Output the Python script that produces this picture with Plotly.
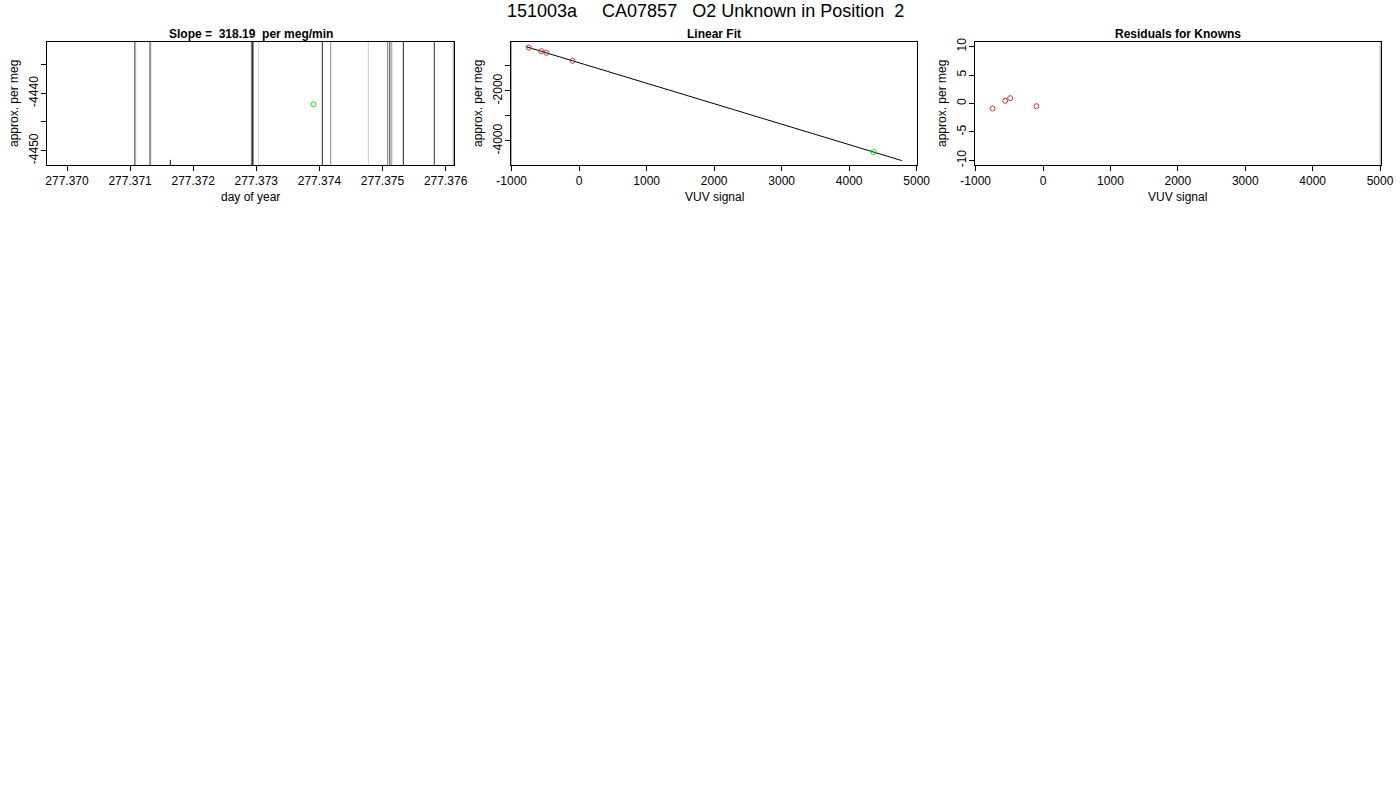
import plotly.graph_objects as go

# ---------------- data ----------------
# Panel 1: day-of-year traces (vertical trace lines) and the unknown point
trace_days = [277.371073, 277.371088, 277.371315, 277.371327, 277.372921, 277.372937,
              277.372956, 277.373035, 277.374046, 277.374179, 277.374775, 277.375082,
              277.375116, 277.375147, 277.375330, 277.375821, 277.376122]
trace_colors = ["#555555", "#aaaaaa", "#333333", "#999999", "#888888", "#000000",
                "#999999", "#dddddd", "#222222", "#888888", "#cccccc", "#777777",
                "#333333", "#999999", "#222222", "#333333", "#999999"]
stub_day = [277.371637]
stub_permeg = [-4455.0, -4451.6]
unknown_day = [277.373906]
unknown_permeg = [-4441.9]

# Panel 2: linear fit of knowns
known_signal = [-745, -563, -485, -98]
known_permeg = [-272.4, -419.7, -483.0, -800.5]
unknown_signal = [4361]
fit_signal = [-790, 4780]
fit_permeg = [-234.7, -4784.2]

# Panel 3: residuals for knowns
resid_signal = [-750, -562, -488, -99]
resid_permeg = [-0.88, 0.47, 0.94, -0.47]

main_title = "151003a\u00a0\u00a0\u00a0\u00a0\u00a0CA07857\u00a0\u00a0\u00a0O2 Unknown in Position\u00a0\u00a02"
titles = ["Slope =\u00a0\u00a0318.19\u00a0\u00a0per meg/min", "Linear Fit", "Residuals for Knowns"]
xlabels = ["day of year", "VUV signal", "VUV signal"]
ylabel = "approx. per meg"

# ---------------- layout constants ----------------
W, H = 1400, 800
FONT = "Liberation Sans, Arial, Helvetica, sans-serif"
px_x = [(47, 454), (511, 917.3), (975, 1380.7)]
py_top, py_bot = 42, 165


def fx(p):
    return p / W


def fy(p):
    return 1 - p / H


ydom = [fy(py_bot), fy(py_top)]

fig = go.Figure()

# Panel 1 vertical lines
for d, c in zip(trace_days, trace_colors):
    fig.add_trace(go.Scatter(x=[d, d], y=[-4470, -4410], mode="lines",
                             line=dict(color=c, width=1), xaxis="x", yaxis="y",
                             showlegend=False, hoverinfo="skip"))
fig.add_trace(go.Scatter(x=[stub_day[0], stub_day[0]], y=stub_permeg, mode="lines",
                         line=dict(color="#000000", width=1), xaxis="x", yaxis="y",
                         showlegend=False))
fig.add_trace(go.Scatter(x=unknown_day, y=unknown_permeg, mode="markers",
                         marker=dict(symbol="circle-open", size=5, color="#00ee00",
                                     line=dict(width=1)),
                         xaxis="x", yaxis="y", showlegend=False))

# Panel 2
fig.add_trace(go.Scatter(x=[-1010, -1010], y=[-6000, 1000], mode="lines",
                         line=dict(color="#aaaaaa", width=2), xaxis="x2", yaxis="y2",
                         showlegend=False, hoverinfo="skip"))
fig.add_trace(go.Scatter(x=fit_signal, y=fit_permeg, mode="lines",
                         line=dict(color="#000000", width=1), xaxis="x2", yaxis="y2",
                         showlegend=False))
fig.add_trace(go.Scatter(x=known_signal, y=known_permeg, mode="markers",
                         marker=dict(symbol="circle-open", size=5, color="#cc3333",
                                     line=dict(width=1)),
                         xaxis="x2", yaxis="y2", showlegend=False))
fig.add_trace(go.Scatter(x=unknown_signal, y=unknown_permeg, mode="markers",
                         marker=dict(symbol="circle-open", size=5, color="#00ee00",
                                     line=dict(width=1)),
                         xaxis="x2", yaxis="y2", showlegend=False))

# Panel 3
fig.add_trace(go.Scatter(x=[5010, 5010], y=[-20, 20], mode="lines",
                         line=dict(color="#aaaaaa", width=2), xaxis="x3", yaxis="y3",
                         showlegend=False, hoverinfo="skip"))
fig.add_trace(go.Scatter(x=resid_signal, y=resid_permeg, mode="markers",
                         marker=dict(symbol="circle-open", size=5, color="#cc3333",
                                     line=dict(width=1)),
                         xaxis="x3", yaxis="y3", showlegend=False))

axcommon = dict(showgrid=False, zeroline=False, showline=True, mirror=True,
                linecolor="#000000", linewidth=1, ticks="outside", ticklen=5,
                tickcolor="#000000", tickwidth=1, automargin=False,
                tickfont=dict(family=FONT, size=12, color="#000000"))

xranges = [[277.369683, 277.376133], [-1010, 5010], [-1010, 5010]]
yranges = [[-4452.5, -4431.05], [-4960, -50], [-10.8, 10.8]]

layout = dict(
    width=W, height=H, margin=dict(l=0, r=0, t=0, b=0, autoexpand=False),
    paper_bgcolor="white", plot_bgcolor="white", showlegend=False,
    font=dict(family=FONT, size=12, color="#000000"),
)

for i in range(3):
    xd = [fx(px_x[i][0]), fx(px_x[i][1])]
    sfx = "" if i == 0 else str(i + 1)
    xa = dict(axcommon, domain=xd, range=xranges[i], anchor="y" + sfx)
    ya = dict(axcommon, domain=ydom, range=yranges[i], anchor="x" + sfx, tickangle=-90,
              ticklabelstandoff=-2)
    if i == 0:
        xa.update(tickvals=[277.370, 277.371, 277.372, 277.373, 277.374, 277.375, 277.376],
                  ticktext=["277.370", "277.371", "277.372", "277.373", "277.374",
                            "277.375", "277.376"])
        ya.update(tickvals=[-4435, -4440, -4445, -4450],
                  ticktext=["", "-4440", "", "-4450"])
    elif i == 1:
        xa.update(tickvals=[-1000, 0, 1000, 2000, 3000, 4000, 5000],
                  ticktext=["-1000", "0", "1000", "2000", "3000", "4000", "5000"])
        ya.update(tickvals=[-1000, -2000, -3000, -4000],
                  ticktext=["", "-2000", "", "-4000"])
    else:
        xa.update(tickvals=[-1000, 0, 1000, 2000, 3000, 4000, 5000],
                  ticktext=["-1000", "0", "1000", "2000", "3000", "4000", "5000"])
        ya.update(tickvals=[10, 5, 0, -5, -10],
                  ticktext=["10", "5", "0", "-5", "-10"])
    layout["xaxis" + sfx] = xa
    layout["yaxis" + sfx] = ya

fig.update_layout(**layout)

ann = []
ann.append(dict(text=main_title, x=fx(705), y=fy(11), xref="paper", yref="paper",
                showarrow=False, font=dict(family=FONT, size=18, color="#000000"),
                xanchor="center", yanchor="middle"))
for i in range(3):
    cx = fx((px_x[i][0] + px_x[i][1]) / 2)
    ann.append(dict(text="<b>" + titles[i] + "</b>", x=cx, y=fy(34), xref="paper",
                    yref="paper", showarrow=False,
                    font=dict(family=FONT, size=12, color="#000000"),
                    xanchor="center", yanchor="middle"))
    ann.append(dict(text=xlabels[i], x=cx, y=fy(197), xref="paper", yref="paper",
                    showarrow=False, font=dict(family=FONT, size=12, color="#000000"),
                    xanchor="center", yanchor="middle"))
    ann.append(dict(text=ylabel, x=fx(px_x[i][0] - 33), y=fy(104), xref="paper",
                    yref="paper", showarrow=False, textangle=-90,
                    font=dict(family=FONT, size=12, color="#000000"),
                    xanchor="center", yanchor="middle"))
fig.update_layout(annotations=ann)

fig.write_html("out.html",
               config={"displayModeBar": False, "staticPlot": True},
               post_script="document.body.style.margin='0px';"
                           "document.body.style.overflow='hidden';")
